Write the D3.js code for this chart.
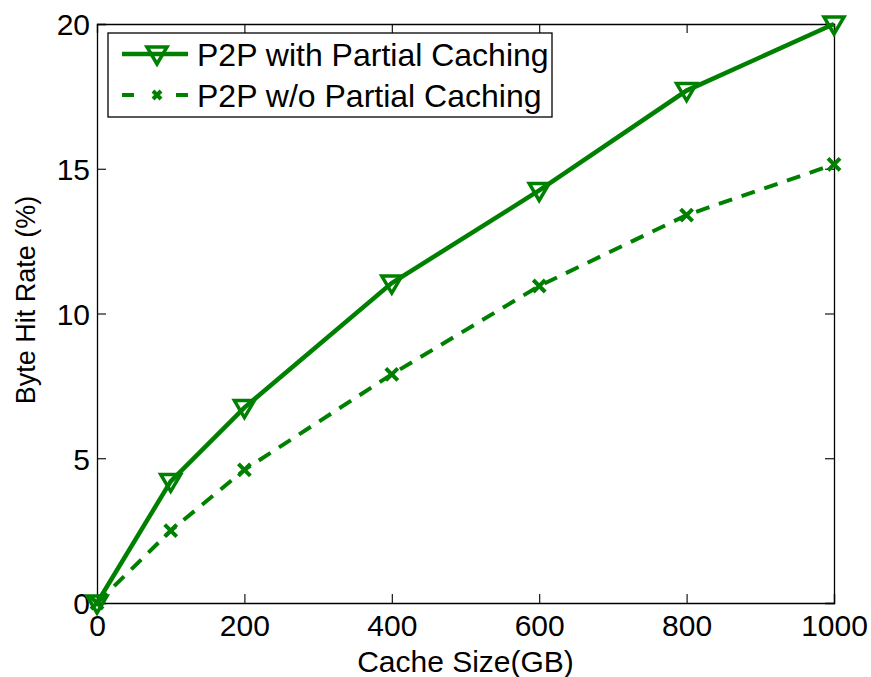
<!DOCTYPE html>
<html>
<head>
<meta charset="utf-8">
<script src="https://cdn.jsdelivr.net/npm/d3@7"></script>
<style>
  body { margin: 0; background: #fff; }
  svg text { font-family: "Liberation Sans", Arial, sans-serif; fill: #000; }
</style>
</head>
<body>
<div id="chart"></div>
<script>
// data
const cacheSize = [0, 100, 200, 400, 600, 800, 1000];
const withPartial = [0, 4.2, 6.75, 11.05, 14.25, 17.7, 20.0];
const withoutPartial = [0, 2.5, 4.6, 7.9, 10.95, 13.4, 15.15];
const xTicks = [0, 200, 400, 600, 800, 1000];
const yTicks = [0, 5, 10, 15, 20];
const seriesNames = ['P2P with Partial Caching', 'P2P w/o Partial Caching'];

const W = 871, H = 677;
const margin = {top: 24, right: 37, bottom: 74, left: 97};
const width = W - margin.left - margin.right;
const height = H - margin.top - margin.bottom;
const green = '#008000';

const svg = d3.select('#chart').append('svg')
    .attr('width', W)
    .attr('height', H);

const g = svg.append('g')
    .attr('transform', 'translate(' + margin.left + ',' + margin.top + ')');

const xScale = d3.scaleLinear().domain([0, 1000]).range([0, width]);
const yScale = d3.scaleLinear().domain([0, 20]).range([height, 0]);

// axes (ticks inward, mirrored on top/right)
const tickLen = 9;
const xAxis = d3.axisBottom(xScale).tickValues(xTicks).tickSize(-tickLen)
    .tickPadding(12).tickFormat(d3.format('d'));
const yAxis = d3.axisLeft(yScale).tickValues(yTicks).tickSize(-tickLen)
    .tickPadding(7).tickFormat(d3.format('d'));

const xg = g.append('g').attr('transform', 'translate(0,' + height + ')').call(xAxis);
const yg = g.append('g').call(yAxis);
g.append('g').call(d3.axisTop(xScale).tickValues(xTicks).tickSize(-tickLen).tickFormat(''));
g.append('g').attr('transform', 'translate(' + width + ',0)')
    .call(d3.axisRight(yScale).tickValues(yTicks).tickSize(-tickLen).tickFormat(''));

g.selectAll('.domain').attr('stroke', '#000').attr('stroke-width', 1.3);
g.selectAll('.tick line').attr('stroke', '#000').attr('stroke-width', 1.1);
g.selectAll('.tick text').style('font-size', '30px');
xg.selectAll('.tick text').attr('dy', '0.71em');
yg.selectAll('.tick text').attr('dy', '0.36em');

// axis titles
svg.append('text')
    .attr('x', margin.left + width / 2)
    .attr('y', 672)
    .attr('text-anchor', 'middle')
    .style('font-size', '30px')
    .text('Cache Size(GB)');

svg.append('text')
    .attr('transform', 'translate(35,300) rotate(-90)')
    .attr('text-anchor', 'middle')
    .style('font-size', '27px')
    .text('Byte Hit Rate (%)');

const line = d3.line()
    .x(d => xScale(d[0]))
    .y(d => yScale(d[1]));

const s1 = cacheSize.map((c, i) => [c, withPartial[i]]);
const s2 = cacheSize.map((c, i) => [c, withoutPartial[i]]);

g.append('path').datum(s2)
    .attr('d', line)
    .attr('fill', 'none')
    .attr('stroke', green)
    .attr('stroke-width', 4)
    .attr('stroke-dasharray', '14,10');

g.append('path').datum(s1)
    .attr('d', line)
    .attr('fill', 'none')
    .attr('stroke', green)
    .attr('stroke-width', 4.5);

// marker shapes
const triPath = 'M-10,-7 L10,-7 L0,10 Z';
const crossPath = 'M-6,-6 L6,6 M-6,6 L6,-6';

g.selectAll('.tri').data(s1).enter().append('path')
    .attr('class', 'tri')
    .attr('transform', d => 'translate(' + xScale(d[0]) + ',' + yScale(d[1]) + ')')
    .attr('d', triPath)
    .attr('fill', 'none')
    .attr('stroke', green)
    .attr('stroke-width', 3.5);

g.selectAll('.crs').data(s2).enter().append('path')
    .attr('class', 'crs')
    .attr('transform', d => 'translate(' + xScale(d[0]) + ',' + yScale(d[1]) + ')')
    .attr('d', crossPath)
    .attr('fill', 'none')
    .attr('stroke', green)
    .attr('stroke-width', 4);

// legend
const leg = svg.append('g').attr('transform', 'translate(108,33)');
leg.append('rect')
    .attr('width', 444).attr('height', 84)
    .attr('fill', '#fff')
    .attr('stroke', '#000')
    .attr('stroke-width', 1.3);

const rows = [{y: 21, shape: triPath, sw: 3.5}, {y: 62, shape: 'M-4,-4 L4,4 M-4,4 L4,-4', sw: 4}];
rows.forEach((r, i) => {
    leg.append('line')
        .attr('x1', 14).attr('x2', 80)
        .attr('y1', r.y).attr('y2', r.y)
        .attr('stroke', green)
        .attr('stroke-width', i === 0 ? 4.5 : 4)
        .attr('stroke-dasharray', i === 1 ? '12,42' : null);
    leg.append('path')
        .attr('transform', 'translate(49,' + r.y + ')')
        .attr('d', r.shape)
        .attr('fill', 'none')
        .attr('stroke', green)
        .attr('stroke-width', r.sw);
    leg.append('text')
        .attr('x', 89).attr('y', r.y)
        .attr('dy', '0.36em')
        .style('font-size', '32px')
        .text(seriesNames[i]);
});
</script>
</body>
</html>
